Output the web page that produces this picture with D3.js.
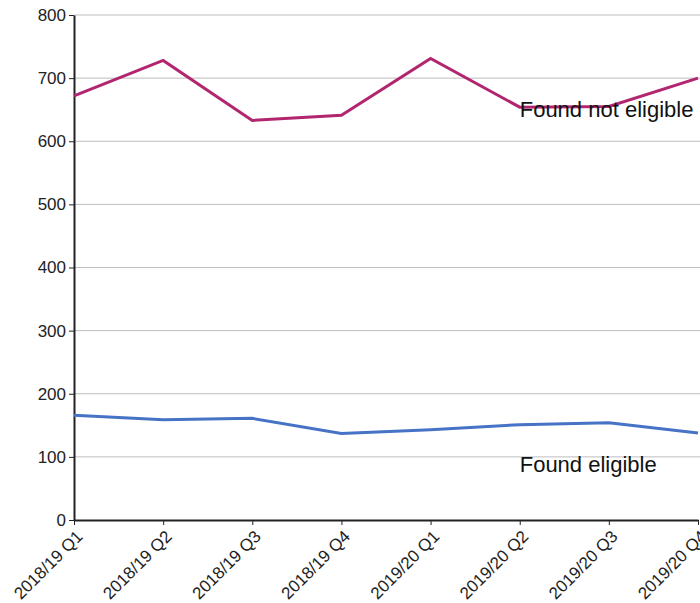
<!DOCTYPE html>
<html>
<head>
<meta charset="utf-8">
<script src="https://cdn.jsdelivr.net/npm/d3@7"></script>
<style>
  body { margin: 0; background: #fff; }
  svg { font-family: "Liberation Sans", Arial, sans-serif; }
  .grid line { stroke: #bdbdbd; stroke-width: 1; }
  .axis path, .axis line { stroke: #222; }
  .axis text { fill: #222; font-size: 17px; }
</style>
</head>
<body>
<svg id="chart"></svg>
<script>
var quarters = ['2018/19 Q1', '2018/19 Q2', '2018/19 Q3', '2018/19 Q4',
                '2019/20 Q1', '2019/20 Q2', '2019/20 Q3', '2019/20 Q4'];
var notEligible = [672, 728, 633, 641, 731, 654, 655, 700];
var eligible = [166, 159, 161, 137, 143, 151, 154, 138];
var yTicks = [0, 100, 200, 300, 400, 500, 600, 700, 800];

var width = 700;
var height = 603;
var margin = { top: 15, right: 2, bottom: 83, left: 74 };

var svg = d3.select('#chart')
    .attr('width', width)
    .attr('height', height);

var x = d3.scalePoint()
    .domain(quarters)
    .range([margin.left, width - margin.right]);

var y = d3.scaleLinear()
    .domain([0, 800])
    .range([height - margin.bottom, margin.top]);

// gridlines
svg.append('g')
    .attr('class', 'grid')
    .selectAll('line')
    .data(yTicks.slice(1))
    .enter()
    .append('line')
    .attr('x1', margin.left)
    .attr('x2', width)
    .attr('y1', function (d) { return y(d); })
    .attr('y2', function (d) { return y(d); });

var yAxis = svg.append('g')
    .attr('class', 'axis')
    .attr('transform', 'translate(' + margin.left + ',0)')
    .call(d3.axisLeft(y).tickValues(yTicks).tickSize(5).tickPadding(3).tickSizeOuter(0));
yAxis.select('.domain').attr('stroke-width', 2);

var xAxis = svg.append('g')
    .attr('class', 'axis')
    .attr('transform', 'translate(0,' + (height - margin.bottom) + ')')
    .call(d3.axisBottom(x).tickSize(5).tickSizeOuter(0));
xAxis.select('.domain').attr('stroke-width', 2);
xAxis.selectAll('text')
    .attr('text-anchor', 'end')
    .attr('transform', 'translate(-4,9) rotate(-45)')
    .attr('dx', '0.2em')
    .attr('dy', '0.55em')
    .attr('x', 0)
    .attr('y', 6);

var line = d3.line()
    .x(function (d, i) { return x(quarters[i]); })
    .y(function (d) { return y(d); });

svg.append('path')
    .datum(notEligible)
    .attr('fill', 'none')
    .attr('stroke', '#b2266f')
    .attr('stroke-width', 3)
    .attr('d', line);

svg.append('path')
    .datum(eligible)
    .attr('fill', 'none')
    .attr('stroke', '#4673c6')
    .attr('stroke-width', 3)
    .attr('d', line);

// labels
svg.append('text')
    .attr('x', x(quarters[5]))
    .attr('y', y(notEligible[5]) + 10)
    .attr('font-size', 22)
    .attr('fill', '#111')
    .text('Found not eligible');

svg.append('text')
    .attr('x', x(quarters[5]))
    .attr('y', 472)
    .attr('font-size', 22)
    .attr('fill', '#111')
    .text('Found eligible');
</script>
</body>
</html>
